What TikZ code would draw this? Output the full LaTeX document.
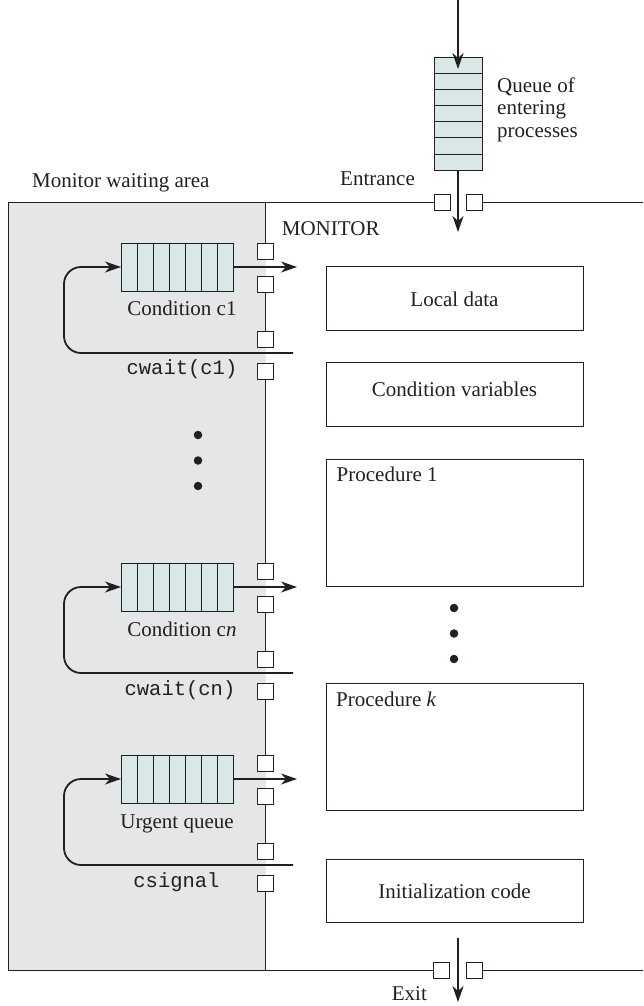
\documentclass[tikz,border=0pt]{standalone}
\usepackage{fontspec}
\setmainfont{Liberation Serif}
\setmonofont{Liberation Mono}
\usetikzlibrary{arrows.meta,calc}
\definecolor{ink}{RGB}{35,31,32}
\definecolor{waitgray}{RGB}{229,230,231}
\definecolor{qfill}{RGB}{217,232,230}
\begin{document}
\begin{tikzpicture}[x=1pt,y=-1pt,
  font=\fontsize{21}{22.5}\selectfont,
  thinline/.style={line width=1pt, draw=ink},
  arr/.style={line width=1.8pt, draw=ink, -{Stealth[length=16pt,width=11pt,inset=5pt]}},
  gate/.style={draw=ink, line width=1pt, fill=white, minimum size=16pt, inner sep=0pt, outer sep=0pt},
  box/.style={draw=ink, line width=1pt, minimum width=257pt, inner sep=0pt},
  queuebox/.style={draw=ink, line width=1pt, fill=qfill, inner sep=0pt, outer sep=0pt},
  lbl/.style={inner sep=0pt, text=ink},
  mono/.style={lbl, font=\fontsize{20.5}{22}\ttfamily},
  bigdot/.style={circle, fill=ink, inner sep=0pt, minimum size=8.5pt}]
\useasboundingbox (0,0) rectangle (643,1006);

% waiting area
\fill[waitgray] (8,202) rectangle (265.5,970);

% gates on top and bottom border
\node[gate] (eg1) at (442,202) {};
\node[gate] (eg2) at (474,202) {};
\node[gate] (xg1) at (441.5,970) {};
\node[gate] (xg2) at (474.5,970) {};
\draw[thinline] (eg1.west) -- (8,202) -- (8,970) -- (xg1.west);
\draw[thinline] (eg2.east) -- (643,202);
\draw[thinline] (xg2.east) -- (643,970);

% gates on the vertical line
\foreach \n/\dy in {1/0,2/320,3/512}{
  \node[gate] (g\n a) at (265.5,251+\dy) {};
  \node[gate] (g\n b) at (265.5,284+\dy) {};
  \node[gate] (g\n c) at (265.5,339+\dy) {};
  \node[gate] (g\n d) at (265.5,371+\dy) {};
}
\draw[thinline] (265.5,202) -- (g1a.north);
\draw[thinline] (g1b.south) -- (g1c.north);
\draw[thinline] (g1d.south) -- (g2a.north);
\draw[thinline] (g2b.south) -- (g2c.north);
\draw[thinline] (g2d.south) -- (g3a.north);
\draw[thinline] (g3b.south) -- (g3c.north);
\draw[thinline] (g3d.south) -- (265.5,970);

% entrance queue
\node[queuebox, minimum width=48pt, minimum height=112pt] (eq) at (458,114) {};
\foreach \i in {1,...,6}
  \draw[thinline] ($(eq.north west)+(0,16*\i)$) -- ($(eq.north east)+(0,16*\i)$);
\coordinate (in0) at (458,0);
\coordinate (in1) at (458,69);
\coordinate (ent) at (458,232);
\draw[arr] (in0) -- (in1);
\draw[arr] (eq.south) -- (ent);
\node[lbl, anchor=north west, align=left] (eqt) at (497,77.5) {Queue of\\entering\\processes};
\node[lbl, anchor=base west] (entt) at (340,185) {Entrance};
\node[lbl, anchor=base west] (wat) at (32,187) {Monitor waiting area};
\node[lbl, anchor=base west] (mont) at (281.7,235.7) {MONITOR};

% exit
\coordinate (ex0) at (458,938);
\coordinate (ex1) at (458,1002);
\draw[arr] (ex0) -- (ex1);
\node[lbl, anchor=base west] (exitt) at (391.7,1000.7) {Exit};

% condition queues
\foreach \n/\dy in {1/0,2/320,3/512}{
  \node[queuebox, minimum width=112pt, minimum height=48pt] (q\n) at (177,267+\dy) {};
  \foreach \i in {1,...,6}
    \draw[thinline] ($(q\n.north west)+(16*\i,0)$) -- ($(q\n.south west)+(16*\i,0)$);
  \coordinate (o\n) at (297,267+\dy);
  \coordinate (l\n a) at (293,353+\dy);
  \coordinate (l\n b) at (64,353+\dy);
  \coordinate (l\n c) at (64,267+\dy);
  \draw[arr] (q\n.east) -- (o\n);
  \draw[arr, rounded corners=17pt] (l\n a) -- (l\n b) -- (l\n c) -- (q\n.west);
}
\node[lbl, anchor=base] (q1t) at (182,315) {Condition c1};
\node[mono, anchor=base] (q1w) at (182,374) {cwait(c1)};
\node[lbl, anchor=base] (q2t) at (182,636) {Condition c\textit{n}};
\node[mono, anchor=base] (q2w) at (180,695) {cwait(cn)};
\node[lbl, anchor=base] (q3t) at (177,828) {Urgent queue};
\node[mono, anchor=base] (q3w) at (176.5,887) {csignal};

% dots
\node[bigdot] (da) at (198,435) {};
\node[bigdot] (db) at (198,460.5) {};
\node[bigdot] (dc) at (198,486) {};
\node[bigdot] (dd) at (454,608) {};
\node[bigdot] (de) at (454,633.5) {};
\node[bigdot] (df) at (454,659) {};

% monitor boxes
\node[box, minimum height=64pt] (ld) at (454.5,298) {};
\node[lbl, anchor=base] (ldt) at (454.5,306.5) {Local data};
\node[box, minimum height=64pt] (cv) at (454.5,394) {};
\node[lbl, anchor=base] (cvt) at (454.5,396.5) {Condition variables};
\node[box, minimum height=127pt] (p1) at (454.5,522.5) {};
\node[lbl, anchor=base west] (p1t) at (336.5,481.7) {Procedure 1};
\node[box, minimum height=127pt] (pk) at (454.5,746.5) {};
\node[lbl, anchor=base west] (pkt) at (336,706) {Procedure \textit{k}};
\node[box, minimum height=63pt] (ic) at (454.5,890.5) {};
\node[lbl, anchor=base] (ict) at (454.5,898) {Initialization code};
\end{tikzpicture}
\end{document}
